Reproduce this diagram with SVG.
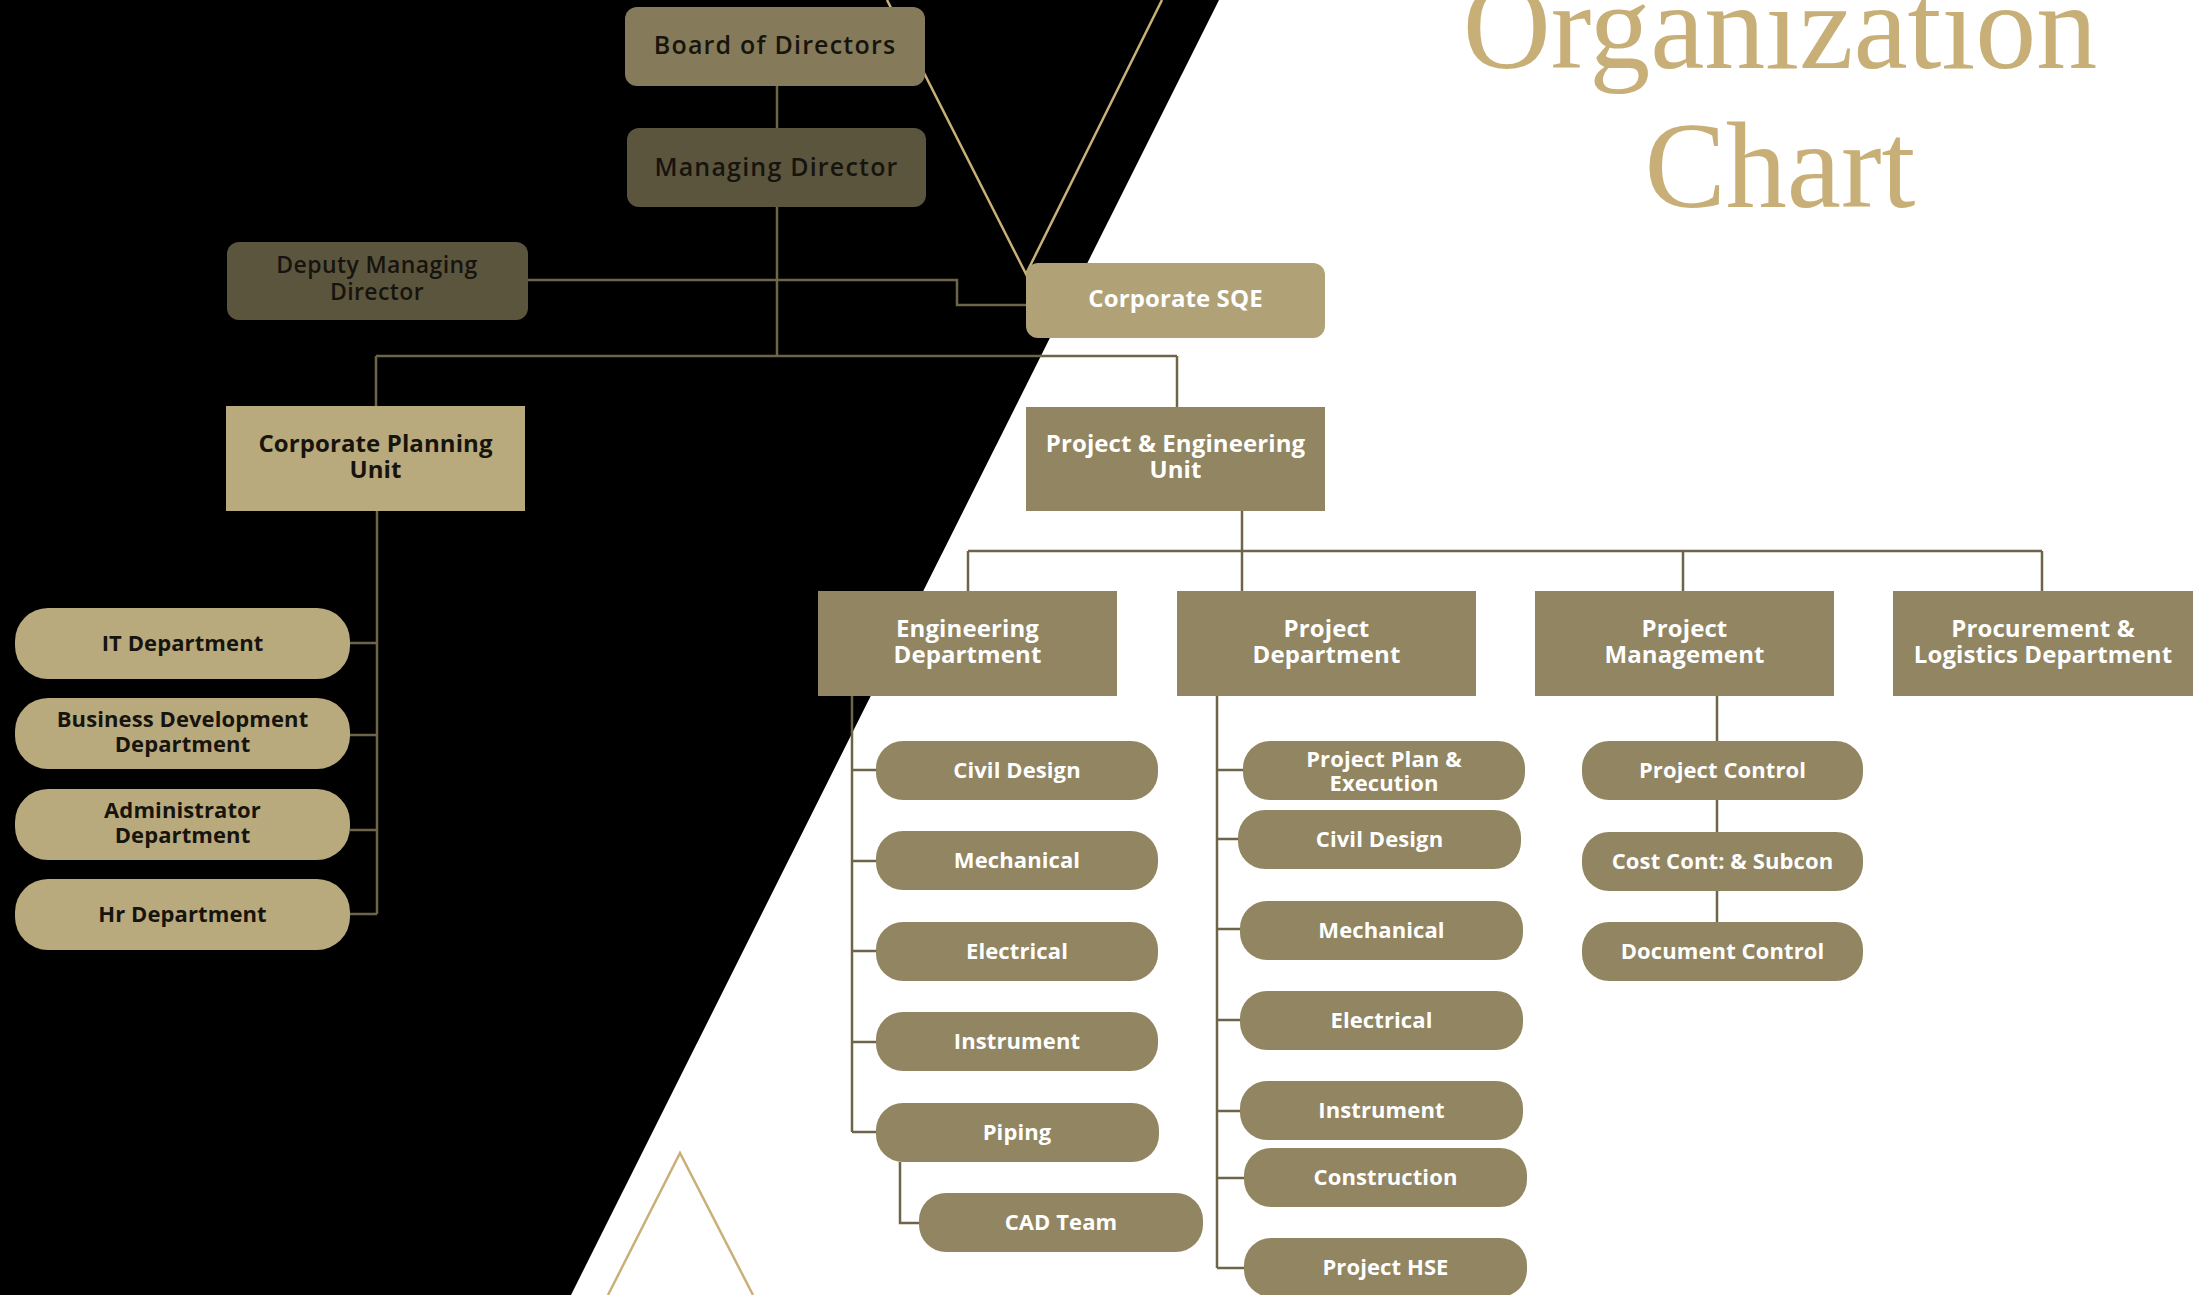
<svg xmlns="http://www.w3.org/2000/svg" width="2201" height="1295" viewBox="0 0 2201 1295">
<style>
.conn{fill:none;stroke:#6e6448;stroke-width:2.5}
.gold{fill:none;stroke:#c9b078;stroke-width:2.5}
.t{font-family:"Open Sans","Liberation Sans",sans-serif;font-weight:700;text-anchor:middle}
.top{font-size:25px;letter-spacing:1.2px;font-weight:600}
.lg{font-size:24px;letter-spacing:0.1px}
.md{font-size:23px;letter-spacing:0.4px;font-weight:600}
.sm{font-size:22px;letter-spacing:0.1px}
.dk{fill:#17140e}
.wt{fill:#ffffff}
.title{font-family:"Liberation Serif","Times New Roman",serif;font-size:122px;fill:#c8af77;text-anchor:middle}
.b1{fill:#857a59}
.b2{fill:#5c553e}
.b3{fill:#b0a276}
.lt{fill:#b9aa7d}
.ol{fill:#918562}
</style>
<rect x="0" y="0" width="2201" height="1295" fill="#ffffff"/>
<polygon points="0,0 1219,0 571,1295 0,1295" fill="#000000"/>
<g id="decor">
<polyline class="gold" points="887,0 1026,274 1162,0"/>
<polyline class="gold" points="608,1295 680,1153 753,1295"/>
</g>
<text class="title" x="1780" y="68">Organization</text>
<text class="title" x="1780" y="207">Chart</text>
<g id="connectors">
<path class="conn" d="M777,86 V356"/>
<path class="conn" d="M376,356 H1177"/>
<path class="conn" d="M376,356 V406"/>
<path class="conn" d="M1177,356 V407"/>
<path class="conn" d="M528,280 H957 V305 H1026"/>
<path class="conn" d="M377,511 V914 M350,643 H377 M350,735 H377 M350,830 H377 M350,914 H377"/>
<path class="conn" d="M1242,511 V591"/>
<path class="conn" d="M968,551 H2042 M968,551 V591 M1683,551 V591 M2042,551 V591"/>
<path class="conn" d="M852,696 V1132 M852,770 H876 M852,861 H876 M852,951 H876 M852,1042 H876 M852,1132 H876"/>
<path class="conn" d="M900,1162 V1223 H919"/>
<path class="conn" d="M1217,696 V1268 M1217,770 H1243 M1217,839 H1238 M1217,929 H1240 M1217,1020 H1240 M1217,1111 H1240 M1217,1178 H1244 M1217,1268 H1244"/>
<path class="conn" d="M1717,696 V922"/>
</g>
<g id="board"><rect class="b1" x="625" y="7" width="300" height="79" rx="12"/><text class="t top dk" x="775" y="54">Board of Directors</text></g>
<g id="md"><rect class="b2" x="627" y="128" width="299" height="79" rx="12"/><text class="t top dk" x="776.5" y="176">Managing Director</text></g>
<g id="deputy"><rect class="b2" x="227" y="242" width="301" height="78" rx="12"/><text class="t md dk" x="377" y="273">Deputy Managing</text><text class="t md dk" x="377" y="300">Director</text></g>
<g id="sqe"><rect class="b3" x="1026" y="263" width="299" height="75" rx="12"/><text class="t lg wt" x="1175.5" y="307">Corporate SQE</text></g>
<g id="cpu"><rect class="lt" x="226" y="406" width="299" height="105"/><text class="t lg dk" x="375.5" y="452">Corporate Planning</text><text class="t lg dk" x="375.5" y="478">Unit</text></g>
<g id="peu"><rect class="ol" x="1026" y="407" width="299" height="104"/><text class="t lg wt" x="1175.5" y="452">Project &amp; Engineering</text><text class="t lg wt" x="1175.5" y="478">Unit</text></g>
<g id="it"><rect class="lt" x="15" y="608" width="335" height="71" rx="33"/><text class="t sm dk" x="182.5" y="651">IT Department</text></g>
<g id="bd"><rect class="lt" x="15" y="698" width="335" height="71" rx="33"/><text class="t sm dk" x="182.5" y="727">Business Development</text><text class="t sm dk" x="182.5" y="752">Department</text></g>
<g id="admin"><rect class="lt" x="15" y="789" width="335" height="71" rx="33"/><text class="t sm dk" x="182.5" y="818">Administrator</text><text class="t sm dk" x="182.5" y="843">Department</text></g>
<g id="hr"><rect class="lt" x="15" y="879" width="335" height="71" rx="33"/><text class="t sm dk" x="182.5" y="922">Hr Department</text></g>
<g id="eng"><rect class="ol" x="818" y="591" width="299" height="105"/><text class="t lg wt" x="967.5" y="637">Engineering</text><text class="t lg wt" x="967.5" y="663">Department</text></g>
<g id="pd"><rect class="ol" x="1177" y="591" width="299" height="105"/><text class="t lg wt" x="1326.5" y="637">Project</text><text class="t lg wt" x="1326.5" y="663">Department</text></g>
<g id="pm"><rect class="ol" x="1535" y="591" width="299" height="105"/><text class="t lg wt" x="1684.5" y="637">Project</text><text class="t lg wt" x="1684.5" y="663">Management</text></g>
<g id="proc"><rect class="ol" x="1893" y="591" width="300" height="105"/><text class="t lg wt" x="2043" y="637">Procurement &amp;</text><text class="t lg wt" x="2043" y="663">Logistics Department</text></g>
<g id="e-civil"><rect class="ol" x="876" y="741" width="282" height="59" rx="27"/><text class="t sm wt" x="1017" y="778">Civil Design</text></g>
<g id="e-mech"><rect class="ol" x="876" y="831" width="282" height="59" rx="27"/><text class="t sm wt" x="1017" y="868">Mechanical</text></g>
<g id="e-elec"><rect class="ol" x="876" y="922" width="282" height="59" rx="27"/><text class="t sm wt" x="1017" y="959">Electrical</text></g>
<g id="e-inst"><rect class="ol" x="876" y="1012" width="282" height="59" rx="27"/><text class="t sm wt" x="1017" y="1049">Instrument</text></g>
<g id="e-pipe"><rect class="ol" x="876" y="1103" width="283" height="59" rx="27"/><text class="t sm wt" x="1017" y="1140">Piping</text></g>
<g id="e-cad"><rect class="ol" x="919" y="1193" width="284" height="59" rx="27"/><text class="t sm wt" x="1061" y="1230">CAD Team</text></g>
<g id="p-plan"><rect class="ol" x="1243" y="741" width="282" height="59" rx="27"/><text class="t sm wt" x="1384" y="767">Project Plan &amp;</text><text class="t sm wt" x="1384" y="791">Execution</text></g>
<g id="p-civil"><rect class="ol" x="1238" y="810" width="283" height="59" rx="27"/><text class="t sm wt" x="1379.5" y="847">Civil Design</text></g>
<g id="p-mech"><rect class="ol" x="1240" y="901" width="283" height="59" rx="27"/><text class="t sm wt" x="1381.5" y="938">Mechanical</text></g>
<g id="p-elec"><rect class="ol" x="1240" y="991" width="283" height="59" rx="27"/><text class="t sm wt" x="1381.5" y="1028">Electrical</text></g>
<g id="p-inst"><rect class="ol" x="1240" y="1081" width="283" height="59" rx="27"/><text class="t sm wt" x="1381.5" y="1118">Instrument</text></g>
<g id="p-cons"><rect class="ol" x="1244" y="1148" width="283" height="59" rx="27"/><text class="t sm wt" x="1385.5" y="1185">Construction</text></g>
<g id="p-hse"><rect class="ol" x="1244" y="1238" width="283" height="59" rx="27"/><text class="t sm wt" x="1385.5" y="1275">Project HSE</text></g>
<g id="m-pc"><rect class="ol" x="1582" y="741" width="281" height="59" rx="27"/><text class="t sm wt" x="1722.5" y="778">Project Control</text></g>
<g id="m-cc"><rect class="ol" x="1582" y="832" width="281" height="59" rx="27"/><text class="t sm wt" x="1722.5" y="869">Cost Cont: &amp; Subcon</text></g>
<g id="m-dc"><rect class="ol" x="1582" y="922" width="281" height="59" rx="27"/><text class="t sm wt" x="1722.5" y="959">Document Control</text></g>
</svg>
